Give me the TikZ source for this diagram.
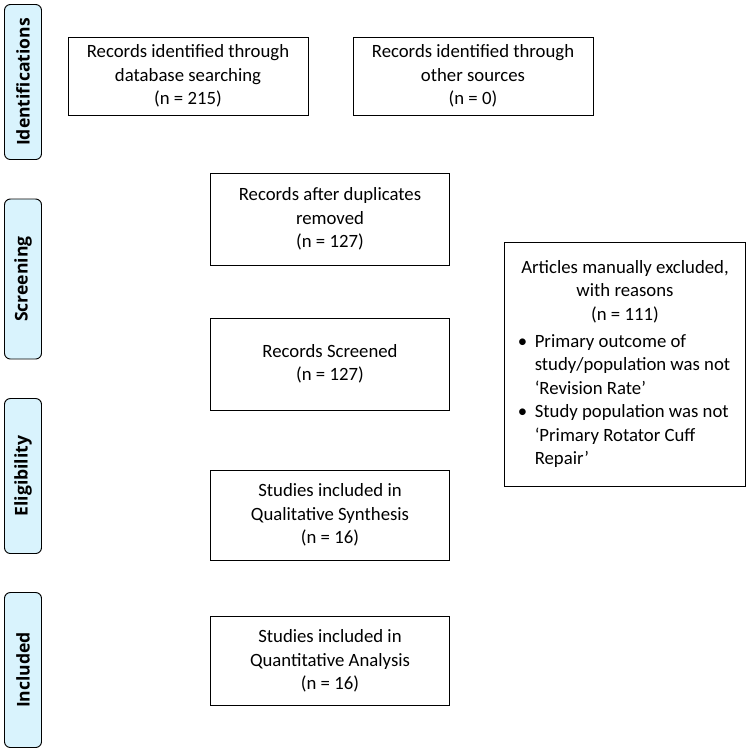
\documentclass[tikz,border=0pt]{standalone}
\usepackage{fontspec}
\setmainfont{Carlito}
\newfontfamily\tabfont{Open Sans}
\begin{document}
\begin{tikzpicture}[x=0.03cm,y=-0.03cm,
    box/.style={draw,thick,fill=white,align=center,inner sep=0pt,font=\fontsize{16}{20}\selectfont},
    tab/.style={draw,thick,fill=cyan!15,rounded corners=5pt,minimum width=37*0.03cm,font=\tabfont\fontsize{15}{18}\selectfont\bfseries}]
    \useasboundingbox (0,0) rectangle (750,750);

    % stage tabs
    \node[tab,minimum height=155*0.03cm] (idtab) at (23,82) {\rotatebox{90}{Identifications}};
    \node[tab,minimum height=160*0.03cm] (sctab) at (23,279) {\rotatebox{90}{Screening}};
    \node[tab,minimum height=155*0.03cm] (eltab) at (23,476) {\rotatebox{90}{Eligibility}};
    \node[tab,minimum height=155*0.03cm] (intab) at (23,670) {\rotatebox{90}{Included}};

    % boxes
    \node[box,minimum width=240*0.03cm,minimum height=78*0.03cm] (db) at (188,76)
        {Records identified through\\database searching\\(n = 215)};
    \node[box,minimum width=240*0.03cm,minimum height=78*0.03cm] (other) at (473,76)
        {Records identified through\\other sources\\(n = 0)};
    \node[box,minimum width=239*0.03cm,minimum height=92*0.03cm] (dup) at (330,219)
        {Records after duplicates\\removed\\(n = 127)};
    \node[box,minimum width=239*0.03cm,minimum height=92*0.03cm] (scr) at (330,364)
        {Records Screened\\(n = 127)};
    \node[box,minimum width=239*0.03cm,minimum height=90*0.03cm] (qual) at (330,515)
        {Studies included in\\Qualitative Synthesis\\(n = 16)};
    \node[box,minimum width=239*0.03cm,minimum height=89*0.03cm] (quant) at (330,661)
        {Studies included in\\Quantitative Analysis\\(n = 16)};
    \node[box,minimum width=241*0.03cm,minimum height=244*0.03cm] (excl) at (625,364)
        {Articles manually excluded,\\with reasons\\(n = 111)\\[3pt]
        \parbox[t]{190pt}{\raggedright\hangindent=18pt\hangafter=1\strut
        \makebox[18pt][l]{\ \textbullet}Primary outcome of study/population was not `Revision Rate'\par
        \hangindent=18pt\hangafter=1
        \makebox[18pt][l]{\ \textbullet}Study population was not `Primary Rotator Cuff Repair'}};
\end{tikzpicture}
\end{document}
